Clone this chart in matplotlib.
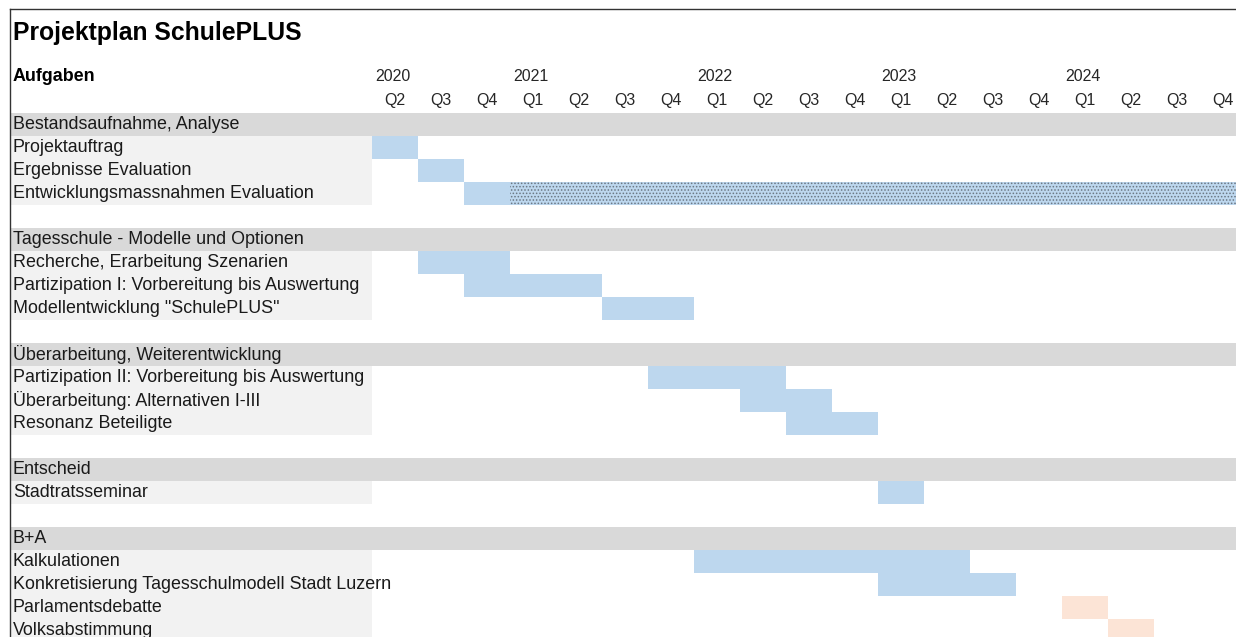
import matplotlib.pyplot as plt

plt.rcParams['font.family'] = ['Liberation Sans', 'DejaVu Sans']
plt.rcParams['hatch.linewidth'] = 0.7

#__________________DATA

title = 'Projektplan SchulePLUS'
quarters = ['Q2', 'Q3', 'Q4'] + ['Q1', 'Q2', 'Q3', 'Q4'] * 4
years = ['2020', '2021', '2022', '2023', '2024']
year_col = [0, 3, 7, 11, 15]

row_labels = ['Bestandsaufnahme, Analyse', 'Projektauftrag', 'Ergebnisse Evaluation',
              'Entwicklungsmassnahmen Evaluation', '',
              'Tagesschule - Modelle und Optionen', 'Recherche, Erarbeitung Szenarien',
              'Partizipation I: Vorbereitung bis Auswertung', 'Modellentwicklung "SchulePLUS"', '',
              'Überarbeitung, Weiterentwicklung', 'Partizipation II: Vorbereitung bis Auswertung',
              'Überarbeitung: Alternativen I-III', 'Resonanz Beteiligte', '',
              'Entscheid', 'Stadtratsseminar', '',
              'B+A', 'Kalkulationen', 'Konkretisierung Tagesschulmodell Stadt Luzern',
              'Parlamentsdebatte', 'Volksabstimmung']
row_kind = ['g', 't', 't', 't', '',
            'g', 't', 't', 't', '',
            'g', 't', 't', 't', '',
            'g', 't', '',
            'g', 't', 't', 't', 't']

# bars: row index, first quarter column, number of quarters, colour
bar_row   = [1, 2, 3, 6, 7, 8, 11, 12, 13, 16, 19, 20, 21, 22]
bar_start = [0, 1, 2, 1, 2, 5, 6, 8, 9, 11, 7, 11, 15, 16]
bar_len   = [1, 1, 1, 2, 3, 2, 3, 2, 2, 1, 6, 3, 1, 1]
bar_color = ['#bdd7ee'] * 12 + ['#fce4d6'] * 2

# dotted continuation of "Entwicklungsmassnahmen Evaluation"
dot_row, dot_start, dot_len = 3, 3, 16

#__________________FIGURE

W, H = 1236, 637
fig = plt.figure(figsize=(W / 100, H / 100), dpi=100)
ax = fig.add_axes([0, 0, 1, 1])
ax.set_xlim(-372 / 46, (W - 372) / 46)
ax.set_ylim((H - 112.5) / 23, -112.5 / 23)
ax.axis('off')

x0 = -362 / 46
ncol = len(quarters)

for i, (lab, k) in enumerate(zip(row_labels, row_kind)):
    if k == 'g':
        ax.barh(i, ncol + 1 - x0, left=x0, height=1, align='edge', color='#d9d9d9', lw=0)
    elif k == 't':
        ax.barh(i, -x0, left=x0, height=1, align='edge', color='#f2f2f2', lw=0)
    if lab:
        ax.text(x0 + 0.06, i + 0.52, lab, fontsize=12.9, va='center', ha='left', color='#1a1a1a')

ax.barh(bar_row, bar_len, left=bar_start, height=1, align='edge', color=bar_color, lw=0)
ax.barh(dot_row, dot_len, left=dot_start, height=1, align='edge', facecolor='#bdd7ee',
        edgecolor='#6b7783', hatch='.....', lw=0)

# header
for c, q in enumerate(quarters):
    ax.text(c + 0.5, -0.5, q, fontsize=11.5, ha='center', va='center', color='#262626')
for c, y in zip(year_col, years):
    ax.text(c + 0.06, -1.55, y, fontsize=11.5, ha='left', va='center', color='#262626')
ax.text(x0 + 0.06, -1.55, 'Aufgaben', fontsize=12.9, fontweight='bold', ha='left', va='center')
ax.text(x0 + 0.06, -3.45, title, fontsize=17.8, fontweight='bold', ha='left', va='center')

# sheet border
ytop = (9 - 112.5) / 23
ax.plot([x0, x0], [ytop, (H - 112.5) / 23], color='#333333', lw=1)
ax.plot([x0, (W - 372) / 46], [ytop, ytop], color='#333333', lw=1)

plt.savefig('out.png', dpi=100)
plt.close()
